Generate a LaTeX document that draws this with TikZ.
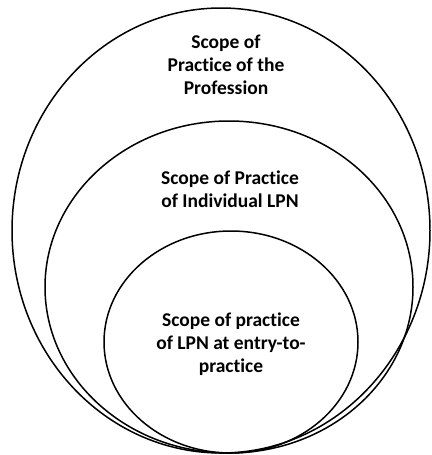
\documentclass[tikz,border=0pt]{standalone}
\usepackage{fontspec}
\setmainfont{Carlito}[Ligatures=NoCommon]
\begin{document}
\begin{tikzpicture}[x=1pt,y=-1pt,
  ring/.style={draw=black,line width=1.5pt},
  lbl/.style={align=center,font=\bfseries\fontsize{19.5}{23}\selectfont,inner sep=0pt}]
\useasboundingbox (0,0) rectangle (431,455);
\draw[ring] (221,230.5) ellipse [x radius=209,y radius=222.5];
\draw[ring] (229,287) ellipse [x radius=184,y radius=166];
\draw[ring] (231,342) ellipse [x radius=127,y radius=111];
\node[lbl] (t1) at (226,65) {Scope of\\Practice of the\\Profession};
\node[lbl] (t2) at (230,189) {Scope of Practice\\of Individual LPN};
\node[lbl] (t3) at (231,344) {Scope of practice\\of LPN at entry-to-\\practice};
\end{tikzpicture}
\end{document}
